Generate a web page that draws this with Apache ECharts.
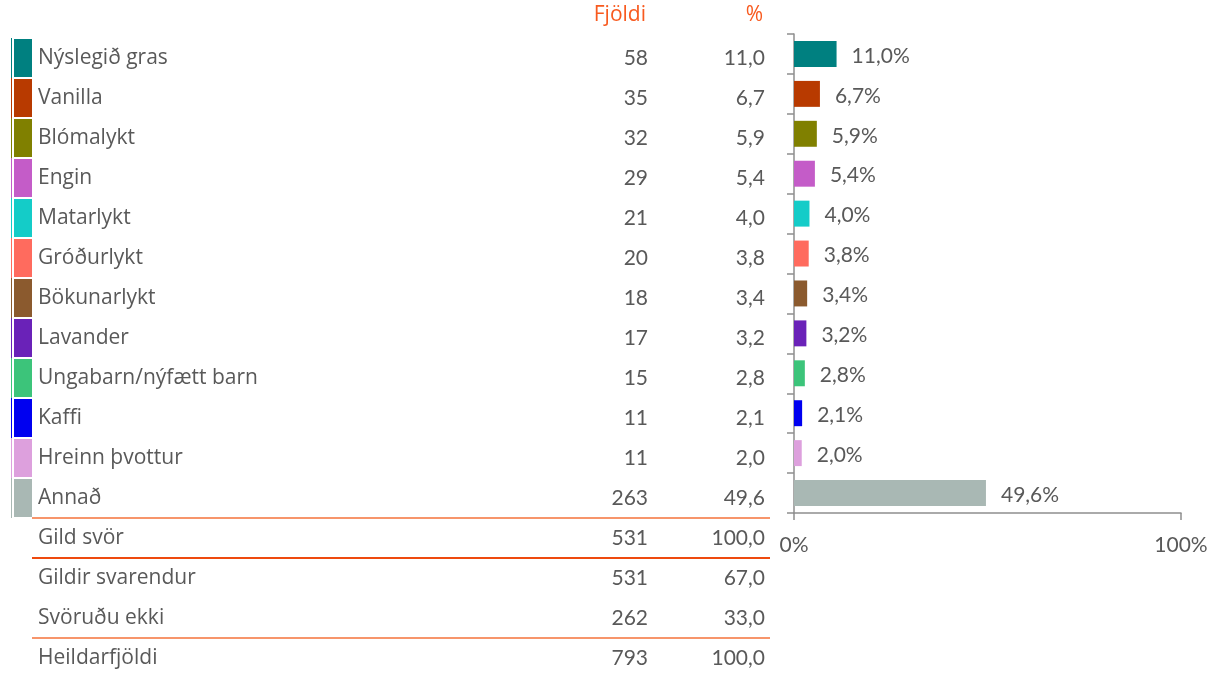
<!DOCTYPE html>
<html><head><meta charset="utf-8">
<script src="https://cdn.jsdelivr.net/npm/echarts@6/dist/echarts.min.js"></script>
<style>html,body{margin:0;padding:0;background:#fff}#c{width:1211px;height:673px}</style>
</head><body><div id="c"></div>
<script>
const categories = ['Nýslegið gras','Vanilla','Blómalykt','Engin','Matarlykt','Gróðurlykt','Bökunarlykt','Lavander','Ungabarn/nýfætt barn','Kaffi','Hreinn þvottur','Annað'];
const counts = [58,35,32,29,21,20,18,17,15,11,11,263];
const percents = [11.0,6.7,5.9,5.4,4.0,3.8,3.4,3.2,2.8,2.1,2.0,49.6];
const colors = ['#008080','#B83A00','#808000','#C45CC8','#14CCC8','#FF6B5E','#8B5A2E','#6A22B8','#3CC47A','#0000F0','#DDA0DD','#A9B8B4'];
const summaryLabels = ['Gild svör','Gildir svarendur','Svöruðu ekki','Heildarfjöldi'];
const summaryCounts = [531,531,262,793];
const summaryPercents = [100.0,67.0,33.0,100.0];
const xTicks = ['0%','100%'];

const FONT = 'Lato';
const NFONT = 'Open Sans';
const TXT = '#595959';
const FS = 21;
const NFS = 21;
const fmt = v => v.toFixed(1).replace('.', ',');

const rich = {t:{padding:[0,0,0,6],fontSize:NFS,color:TXT,fontFamily:NFONT},g:{width:2,height:40}};
colors.forEach((c,i)=>{
  rich['c'+i] = {width:18,height:38,backgroundColor:c};
  rich['b'+i] = {width:1,height:40,backgroundColor:c};
});

const hidden = {axisLine:{show:false},axisTick:{show:false},splitLine:{show:false}};
const AX = '#8E8E8E';

const chart = echarts.init(document.getElementById('c'));
chart.setOption({
  animation:false,
  title:[
    {text:'Fjöldi',right:1211-646,top:5,padding:0,textStyle:{color:'#F85A1F',fontSize:NFS,fontWeight:'normal',fontFamily:NFONT}},
    {text:'%',right:1211-763,top:5,padding:0,textStyle:{color:'#F85A1F',fontSize:NFS,fontWeight:'normal',fontFamily:NFONT}}
  ],
  grid:[
    {left:794,width:387,top:34,height:479,containLabel:false,outerBoundsMode:'none'},
    {left:32,width:738,top:518,height:160,containLabel:false,outerBoundsMode:'none'},
    {left:794,width:387,top:38,height:480,containLabel:false,outerBoundsMode:'none'}
  ],
  xAxis:[
    {gridIndex:0,type:'value',min:0,max:100,interval:100,
     axisLine:{show:true,lineStyle:{color:AX,width:1.5}},
     axisTick:{show:true,length:7,lineStyle:{color:AX,width:1.5}},
     splitLine:{show:false},
     axisLabel:{formatter:v=>xTicks[v/100],color:TXT,fontSize:FS,fontFamily:FONT,margin:22}},
    {gridIndex:1,type:'value',show:false},
    {gridIndex:2,type:'value',show:false}
  ],
  yAxis:[
    {gridIndex:0,type:'category',inverse:true,data:categories,
     axisLine:{show:true,lineStyle:{color:AX,width:1.5}},
     axisTick:{show:true,length:7,lineStyle:{color:AX,width:1.5}},
     axisLabel:{show:false},splitLine:{show:false}},
    Object.assign({gridIndex:2,type:'category',inverse:true,data:categories,position:'left',offset:794-11,
     axisLabel:{align:'left',margin:0,formatter:(v,i)=>'{b'+i+'|}{g|}{c'+i+'|}{t|'+v+'}',rich:rich}},hidden),
    Object.assign({gridIndex:2,type:'category',inverse:true,data:categories,position:'left',offset:794-648,
     axisLabel:{align:'right',margin:0,formatter:(v,i)=>String(counts[i]),color:TXT,fontSize:FS,fontFamily:FONT}},hidden),
    Object.assign({gridIndex:2,type:'category',inverse:true,data:categories,position:'left',offset:794-765,
     axisLabel:{align:'right',margin:0,formatter:(v,i)=>fmt(percents[i]),color:TXT,fontSize:FS,fontFamily:FONT}},hidden),
    {gridIndex:1,type:'category',inverse:true,data:summaryLabels,position:'left',offset:32-38,
     axisLine:{show:false},axisTick:{show:false},
     splitLine:{show:true,lineStyle:{color:['#F7956B','#EE4A0E','rgba(0,0,0,0)','#F7956B','rgba(0,0,0,0)'],width:2}},
     axisLabel:{align:'left',margin:0,color:TXT,fontSize:NFS,fontFamily:NFONT}},
    Object.assign({gridIndex:1,type:'category',inverse:true,data:summaryLabels,position:'left',offset:32-648,
     axisLabel:{align:'right',margin:0,formatter:(v,i)=>String(summaryCounts[i]),color:TXT,fontSize:FS,fontFamily:FONT}},hidden),
    Object.assign({gridIndex:1,type:'category',inverse:true,data:summaryLabels,position:'left',offset:32-765,
     axisLabel:{align:'right',margin:0,formatter:(v,i)=>fmt(summaryPercents[i]),color:TXT,fontSize:FS,fontFamily:FONT}},hidden)
  ],
  series:[{
    type:'bar',xAxisIndex:0,yAxisIndex:0,barCategoryGap:'35%',
    data:percents.map((v,i)=>({value:v,itemStyle:{color:colors[i]}})),
    label:{show:true,position:'right',distance:15,offset:[0,2],formatter:p=>fmt(p.value)+'%',color:TXT,fontSize:FS,fontFamily:FONT}
  }]
});
</script></body></html>
